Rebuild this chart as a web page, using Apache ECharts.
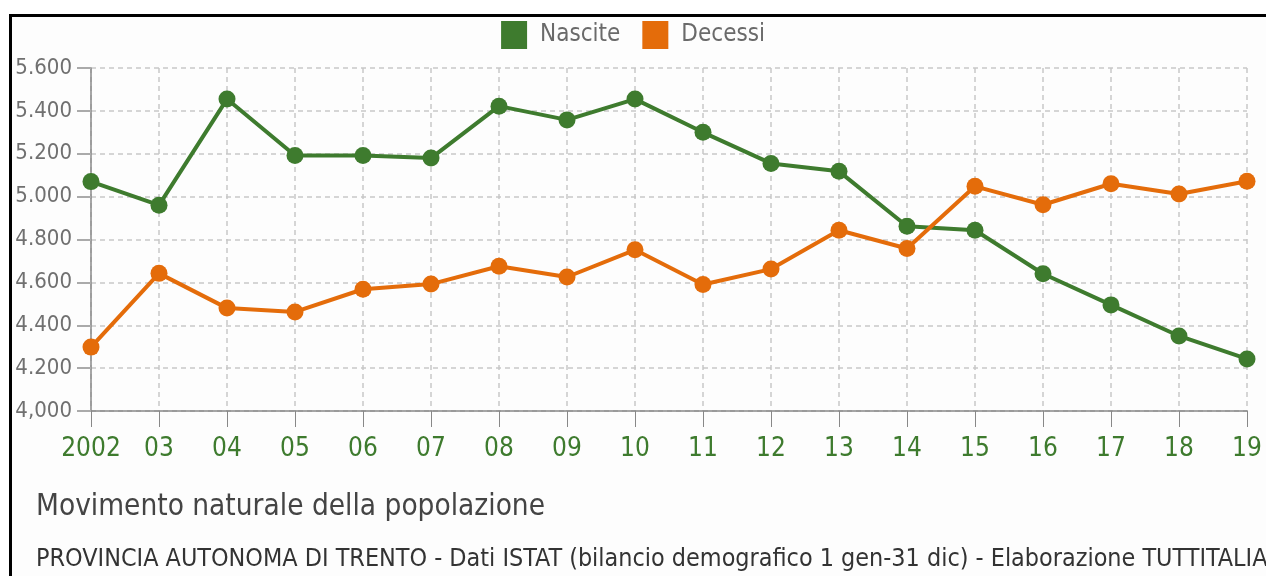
<!DOCTYPE html>
<html>
<head>
<meta charset="utf-8">
<style>
  html, body { margin:0; padding:0; background:#fff; }
  .wrap { position:relative; width:1266px; height:576px; }
  .frame {
    position:absolute; left:9px; top:14px; right:0; bottom:0;
    border-top:3px solid #000; border-left:3px solid #000;
    background:#fdfdfd;
  }
  #myChart { position:absolute; left:0; top:0; width:1266px; height:576px; }
</style>
<script src="https://cdn.jsdelivr.net/npm/echarts@6/dist/echarts.min.js"></script>
</head>
<body>
<div class="wrap">
  <div class="frame"></div>
  <div id="myChart"></div>
</div>
<script>
var FONT = '"Liberation Sans Narrow", "DejaVu Sans Condensed", "Liberation Sans", sans-serif';

var anni = ['2002', '03', '04', '05', '06', '07', '08', '09', '10',
            '11', '12', '13', '14', '15', '16', '17', '18', '19'];
var nascite = [5070, 4960, 5455, 5192, 5192, 5180, 5422, 5358, 5455,
               5300, 5155, 5118, 4862, 4843, 4640, 4495, 4350, 4243];
var decessi = [4298, 4642, 4480, 4462, 4568, 4592, 4675, 4625, 4752,
               4590, 4662, 4843, 4758, 5048, 4962, 5060, 5012, 5072];
var etichetteY = {4000: '4,000', 4200: '4.200', 4400: '4.400', 4600: '4.600',
                  4800: '4.800', 5000: '5.000', 5200: '5.200', 5400: '5.400', 5600: '5.600'};

var verde = '#3e7b2e';
var arancio = '#e46c0a';

var myChart = echarts.init(document.getElementById('myChart'));
var option = {
  backgroundColor: 'transparent',
  animation: false,
  textStyle: { fontFamily: FONT },
  title: [
    {
      text: 'Movimento naturale della popolazione',
      left: 31, top: 487,
      textStyle: { fontSize: 29.5, fontWeight: 'normal', color: '#444', fontFamily: FONT }
    },
    {
      text: 'PROVINCIA AUTONOMA DI TRENTO - Dati ISTAT (bilancio demografico 1 gen-31 dic) - Elaborazione TUTTITALIA',
      left: 31, top: 542,
      textStyle: { fontSize: 24.9, fontWeight: 'normal', color: '#333', fontFamily: FONT }
    }
  ],
  legend: {
    top: 16,
    left: 'center',
    icon: 'rect',
    itemWidth: 26,
    itemHeight: 28,
    itemGap: 22,
    textStyle: { fontSize: 24, color: '#6a6a6a', fontFamily: FONT, padding: [0, 0, 0, 8] },
    data: ['Nascite', 'Decessi']
  },
  grid: { left: 91, right: 19, top: 68, bottom: 165 },
  xAxis: {
    type: 'category',
    data: anni,
    boundaryGap: false,
    axisLine: { lineStyle: { color: '#888', width: 1.5 } },
    axisTick: { show: true, length: 16, interval: 0, lineStyle: { color: '#888' } },
    axisLabel: { color: verde, fontSize: 26, margin: 25, interval: 0, fontFamily: FONT },
    splitLine: { show: true, interval: 0, lineStyle: { color: '#c8c8c8', type: [5, 4], width: 1.5 } }
  },
  yAxis: {
    type: 'value',
    min: 4000, max: 5600, interval: 200,
    axisLine: { show: true, lineStyle: { color: '#888', width: 1.5 } },
    axisTick: { show: true, length: 14, lineStyle: { color: '#aaa', width: 2 } },
    axisLabel: {
      color: '#707070', fontSize: 22, margin: 19, fontFamily: FONT,
      formatter: function (v) { return etichetteY[v] || String(v); }
    },
    splitLine: { show: true, lineStyle: { color: '#c8c8c8', type: [5, 4], width: 1.5 } }
  },
  series: [
    {
      name: 'Nascite', type: 'line', data: nascite,
      symbol: 'circle', symbolSize: 17,
      itemStyle: { color: verde },
      lineStyle: { color: verde, width: 4 }
    },
    {
      name: 'Decessi', type: 'line', data: decessi,
      symbol: 'circle', symbolSize: 17,
      itemStyle: { color: arancio },
      lineStyle: { color: arancio, width: 4 }
    }
  ]
};
myChart.setOption(option);
</script>
</body>
</html>
